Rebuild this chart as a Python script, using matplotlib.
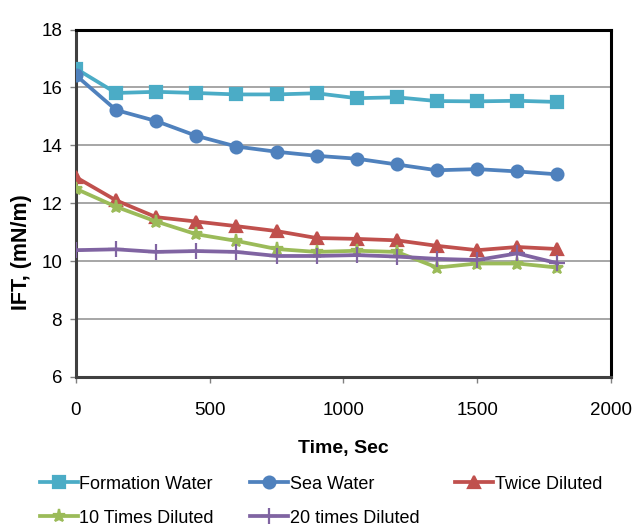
import matplotlib.pyplot as plt
import numpy as np

plt.rcParams['font.family'] = ['Liberation Sans', 'DejaVu Sans']

time_sec = [0, 150, 300, 450, 600, 750, 900, 1050, 1200, 1350, 1500, 1650, 1800]

formation_water = [16.65, 15.81, 15.85, 15.81, 15.76, 15.76, 15.8, 15.63, 15.66, 15.53, 15.52, 15.54, 15.5]
sea_water = [16.42, 15.22, 14.84, 14.33, 13.96, 13.78, 13.64, 13.54, 13.34, 13.14, 13.18, 13.1, 13.0]
twice_diluted = [12.9, 12.1, 11.52, 11.37, 11.21, 11.04, 10.8, 10.77, 10.72, 10.53, 10.38, 10.49, 10.42]
ten_times = [12.5, 11.88, 11.37, 10.93, 10.7, 10.42, 10.32, 10.36, 10.32, 9.78, 9.92, 9.92, 9.78]
twenty_times = [10.38, 10.41, 10.32, 10.35, 10.32, 10.18, 10.18, 10.21, 10.16, 10.08, 10.04, 10.27, 9.93]

series = [
    ("Formation Water", formation_water, "#4BACC6", "s", 8),
    ("Sea Water", sea_water, "#4F81BD", "o", 8.5),
    ("Twice Diluted", twice_diluted, "#C0504D", "^", 8.5),
    ("10 Times Diluted", ten_times, "#9BBB59", "*", 9.5),
    ("20 times Diluted", twenty_times, "#8064A2", "+", 11),
]

fig = plt.figure(figsize=(6.33, 5.28), dpi=100)
ax = fig.add_axes([0.120, 0.286, 0.845, 0.658])

lines = {}
for label, values, color, marker, msize in series:
    line, = ax.plot(time_sec, values, color=color, linewidth=2.7, marker=marker,
                    markersize=msize, markeredgewidth=1.6, markeredgecolor=color,
                    label=label, zorder=3)
    lines[label] = line

ax.set_xlim(0, 2000)
ax.set_ylim(6, 18)
ax.set_xticks(np.arange(0, 2001, 500))
ax.set_yticks(np.arange(6, 19, 2))
ax.yaxis.grid(True, color="#a6a6a6", linewidth=1.4)
ax.set_axisbelow(True)

for side in ["top", "right"]:
    ax.spines[side].set_color("black")
    ax.spines[side].set_linewidth(2.2)
for side in ["left", "bottom"]:
    ax.spines[side].set_color("#404040")
    ax.spines[side].set_linewidth(2.2)

ax.tick_params(axis="both", direction="out", length=4, width=1, color="#808080",
               labelsize=13.5)
ax.tick_params(axis="x", pad=14)
ax.tick_params(axis="y", pad=6)

ax.set_xlabel("Time, Sec", fontsize=14, fontweight="bold")
ax.xaxis.set_label_coords(0.5, -0.182)
ax.set_ylabel("IFT, (mN/m)", fontsize=15.5, fontweight="bold")
ax.yaxis.set_label_coords(-0.083, 0.36)

# legend is filled column by column, so reorder to read row by row
order = ["Formation Water", "10 Times Diluted", "Sea Water", "20 times Diluted", "Twice Diluted"]
fig.legend([lines[k] for k in order], order, loc="upper left", bbox_to_anchor=(0.057, 0.106),
           borderaxespad=0, ncol=3, frameon=False, fontsize=13, handlelength=2.1,
           handletextpad=0.1, columnspacing=2.0, labelspacing=0.95, borderpad=0.2)

fig.savefig("out.png", dpi=100)
plt.close(fig)
